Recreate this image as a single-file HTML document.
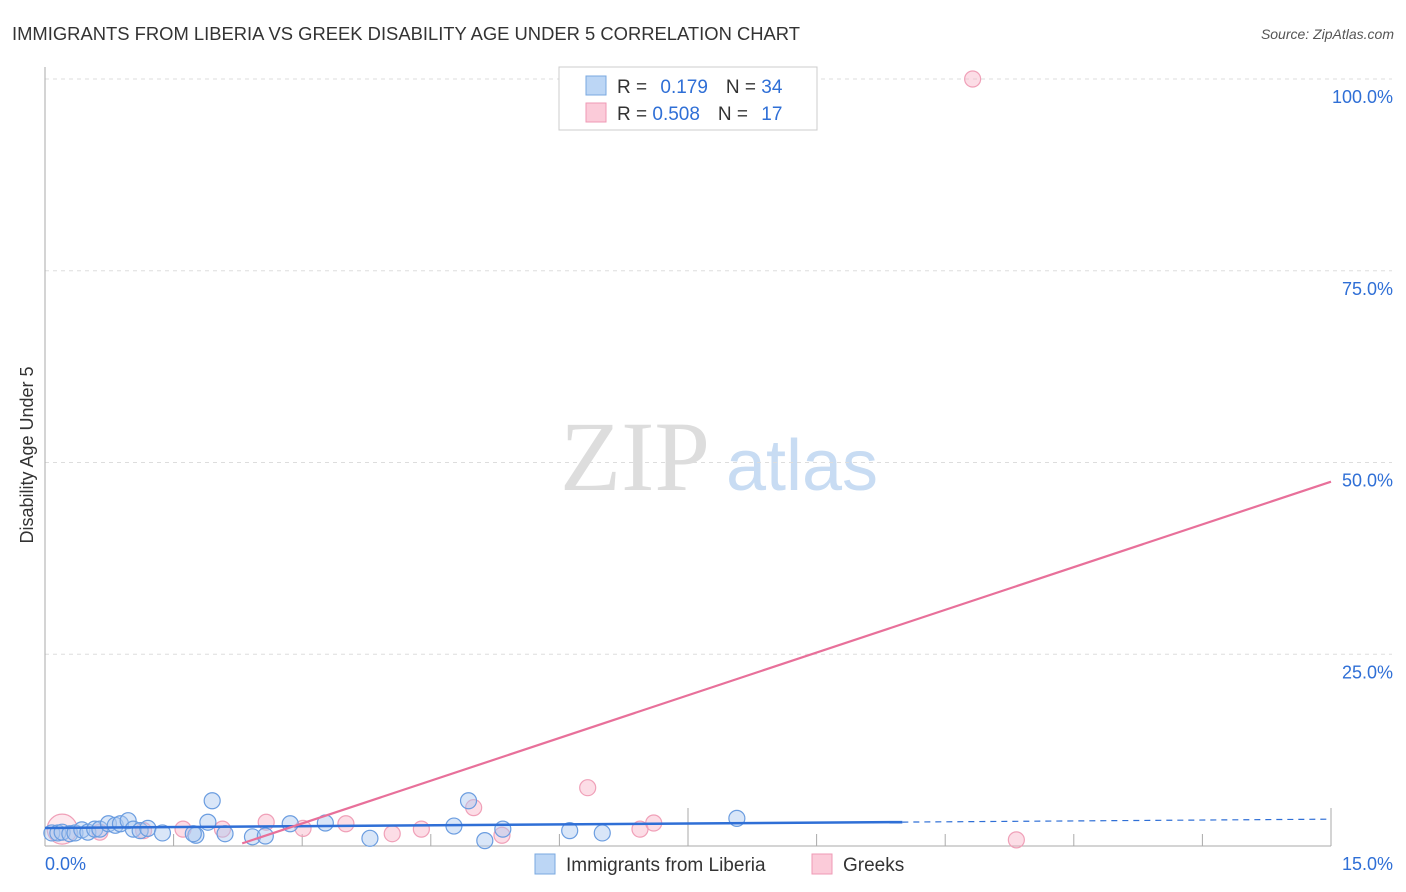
<!DOCTYPE html>
<html><head><meta charset="utf-8"><style>
body{margin:0;background:#fff;font-family:"Liberation Sans",sans-serif}
svg{display:block}
</style></head><body>
<svg width="1406" height="892" viewBox="0 0 1406 892">
<text x="12" y="40" font-size="18" fill="#333" textLength="788" lengthAdjust="spacingAndGlyphs">IMMIGRANTS FROM LIBERIA VS GREEK DISABILITY AGE UNDER 5 CORRELATION CHART</text>
<text x="1394" y="39" font-size="14" fill="#555" font-style="italic" text-anchor="end">Source: ZipAtlas.com</text>
<text x="33" y="455" font-size="18" fill="#333" text-anchor="middle" transform="rotate(-90 33 455)">Disability Age Under 5</text>
<g><text x="635" y="490" font-size="100" font-family="Liberation Serif,serif" fill="#ddd" text-anchor="middle">ZIP</text><text x="802" y="490" font-size="72" fill="#c8dcf3" text-anchor="middle">atlas</text></g>
<g id="grid"></g><g id="axes"></g><g id="marks"></g>
<g>
<rect x="559" y="67" width="258" height="63" fill="#fff" stroke="#ccc"/>
<rect x="586" y="76" width="20" height="19" fill="#bcd6f5" stroke="#7aa8e0"/>
<rect x="586" y="103" width="20" height="19" fill="#fbcbd9" stroke="#ef9ab5"/>
<text x="617" y="93" font-size="19" fill="#333">R = <tspan fill="#2f6fd6" dx="8">0.179</tspan><tspan fill="#333" dx="18">N = </tspan><tspan fill="#2f6fd6">34</tspan></text>
<text x="617" y="120" font-size="19" fill="#333">R = <tspan fill="#2f6fd6">0.508</tspan><tspan fill="#333" dx="18">N = </tspan><tspan fill="#2f6fd6" dx="8">17</tspan></text>
</g>
<g>
<rect x="535" y="854" width="20" height="20" fill="#bcd6f5" stroke="#7aa8e0"/>
<text x="566" y="871" font-size="19" fill="#333">Immigrants from Liberia</text>
<rect x="812" y="854" width="20" height="20" fill="#fbcbd9" stroke="#ef9ab5"/>
<text x="843" y="871" font-size="19" fill="#333">Greeks</text>
</g>
</svg>
<script>
const yTicks=[25,50,75,100];
const yTickLabels=["25.0%","50.0%","75.0%","100.0%"];
const blueX=[0.08,0.15,0.2,0.29,0.35,0.43,0.5,0.58,0.64,0.74,0.82,0.88,0.97,1.03,1.11,1.2,1.37,1.95,1.9,1.76,1.73,2.1,2.42,2.57,2.86,3.27,3.79,4.77,4.94,5.13,5.34,6.12,6.5,8.07];
const blueY=[1.7,1.7,1.8,1.6,1.7,2.1,1.8,2.2,2.2,2.9,2.7,2.9,3.3,2.2,2.0,2.3,1.7,5.9,3.1,1.4,1.6,1.6,1.2,1.3,2.9,3.0,1.0,2.6,5.9,0.7,2.2,2.0,1.7,3.6];
const pinkX=[0.2,0.64,1.15,1.61,2.07,2.58,3.01,3.51,4.05,4.39,5.0,5.33,6.33,6.94,7.1,10.82,11.33];
const pinkY=[2.2,1.8,2.0,2.2,2.2,3.1,2.3,2.9,1.6,2.2,5.0,1.4,7.6,2.2,3.0,100,0.8];
const blueLine=[2.35,3.5], blueSolidEnd=10.0;
const pinkLine=[-8.2,47.5], pinkStart=2.3;
const X0=45,X1=1331,Y0=846,Y100=79;
const sx=v=>X0+(X1-X0)*v/15, sy=v=>Y0-(Y0-Y100)*v/100;
const NS="http://www.w3.org/2000/svg";
function mk(p,t,a){const e=document.createElementNS(NS,t);for(const k in a)e.setAttribute(k,a[k]);p.appendChild(e);return e;}
const grid=document.getElementById('grid'),axes=document.getElementById('axes'),marks=document.getElementById('marks');
yTicks.forEach((t,i)=>{
 const l=mk(grid,'line',{x1:X0,x2:1392,y1:sy(t),y2:sy(t),stroke:'#ddd','stroke-dasharray':'4 4'});
 
 
 const tx=mk(axes,'text',{x:1393,y:sy(t)+24,'font-size':18,fill:'#2f6fd6','text-anchor':'end'});
 tx.textContent=yTickLabels[i];
 
 
});
let ya=mk(axes,'line',{x1:X0,x2:X0,y1:67,y2:Y0,stroke:'#aaa'});


let xa=mk(axes,'line',{x1:X0,x2:X1,y1:Y0,y2:Y0,stroke:'#aaa'});


for(let i=1;i<=10;i++){const tall=(i==5||i==10);const t=mk(axes,'line',{x1:sx(i*1.5),x2:sx(i*1.5),y1:tall?808:Y0-12,y2:Y0,stroke:'#aaa'});
 
 }
let xl=mk(axes,'text',{x:45,y:870,'font-size':18,fill:'#2f6fd6'});xl.textContent='0.0%';


let xr=mk(axes,'text',{x:1393,y:870,'font-size':18,fill:'#2f6fd6','text-anchor':'end'});xr.textContent='15.0%';


pinkX.forEach((x,i)=>{const c=mk(marks,'circle',{cx:sx(x),cy:sy(pinkY[i]),r:i==0?15:8,fill:i==0?'rgba(248,180,200,0.3)':'rgba(248,180,200,0.45)',stroke:'#f0a0b8','stroke-width':1.2});
 
 });
blueX.forEach((x,i)=>{const c=mk(marks,'circle',{cx:sx(x),cy:sy(blueY[i]),r:8,fill:'rgba(170,200,240,0.45)',stroke:'#6b9de0','stroke-width':1.2});
 
 });
const bl=v=>blueLine[0]+(blueLine[1]-blueLine[0])*v/15, pl=v=>pinkLine[0]+(pinkLine[1]-pinkLine[0])*v/15;
let b1=mk(marks,'line',{x1:sx(0),y1:sy(bl(0)),x2:sx(blueSolidEnd),y2:sy(bl(blueSolidEnd)),stroke:'#2f6fd6','stroke-width':2.5});


let b2=mk(marks,'line',{x1:sx(blueSolidEnd),y1:sy(bl(blueSolidEnd)),x2:sx(15),y2:sy(bl(15)),stroke:'#2f6fd6','stroke-width':1.2,'stroke-dasharray':'6 5'});


let p1=mk(marks,'line',{x1:sx(pinkStart),y1:sy(pl(pinkStart)),x2:sx(15),y2:sy(pl(15)),stroke:'#e8709a','stroke-width':2.2});


</script>
</body></html>
